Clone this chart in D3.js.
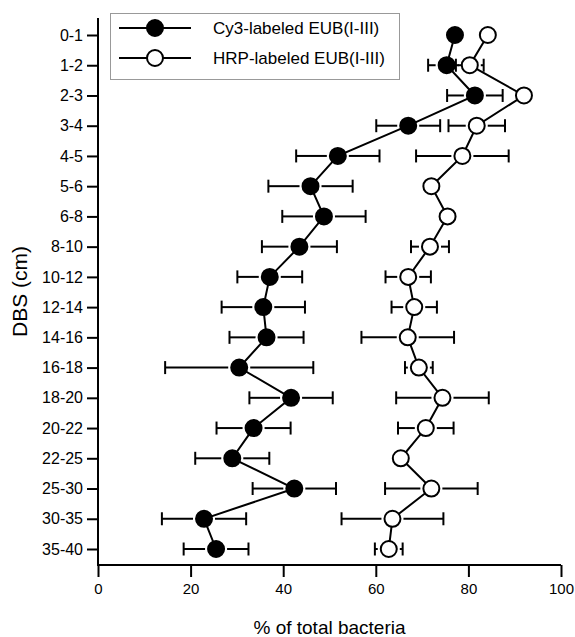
<!DOCTYPE html>
<html><head><meta charset="utf-8">
<script src="https://cdn.jsdelivr.net/npm/d3@7"></script>
<style>body{margin:0;background:#fff}svg{display:block}text{font-family:"Liberation Sans",Arial,sans-serif}</style>
</head><body>
<svg id="c" width="575" height="637"></svg>
<script>
const categories = ["0-1","1-2","2-3","3-4","4-5","5-6","6-8","8-10","10-12","12-14","14-16","16-18","18-20","20-22","22-25","25-30","30-35","35-40"];
const cy3Values = [77.1,75.3,81.4,67.0,51.8,45.9,48.8,43.5,37.1,35.7,36.4,30.5,41.7,33.6,29.0,42.4,22.9,25.5];
const cy3Errors = [1.5,4.0,6.0,6.9,9.0,9.1,9.0,8.1,7.0,9.0,8.0,16.0,9.0,8.0,8.0,9.0,9.1,7.0];
const hrpValues = [84.2,80.3,92.0,81.8,78.7,72.0,75.5,71.7,67.0,68.3,66.9,69.3,74.4,70.8,65.4,72.0,63.6,62.8];
const hrpErrors = [1.5,3.0,1.5,6.1,10.0,1.5,1.5,4.1,4.9,4.9,10.0,3.0,10.0,6.0,1.5,10.0,11.0,3.0];
const xTicks = [0,20,40,60,80,100];
const seriesNames = ["Cy3-labeled EUB(I-III)","HRP-labeled EUB(I-III)"];

const svg = d3.select("#c");
const x = d3.scaleLinear().domain([0,100]).range([98,561]);
const y = d3.scalePoint().domain(categories).range([35,549]);
const axisY0 = 18, axisY1 = 565;
const R = 8, GAP = 3, CAP = 6.5;

// axes
const xAxis = svg.append("g").attr("transform",`translate(0,${axisY1})`)
  .call(d3.axisBottom(x).tickValues(xTicks).tickSize(12).tickPadding(6).tickSizeOuter(0));
xAxis.select(".domain").attr("stroke-width",2).attr("d",`M${x(0)-1},0H${x(100)}`);
xAxis.selectAll(".tick line").attr("stroke-width",2);
xAxis.selectAll(".tick text").attr("font-size",15).attr("fill","#000");

const yAxis = svg.append("g").attr("transform","translate(98,0)")
  .call(d3.axisLeft(y).tickSize(11).tickPadding(4).tickSizeOuter(0));
yAxis.select(".domain").attr("d",`M0,${axisY0}V${axisY1}`).attr("stroke-width",2);
yAxis.selectAll(".tick line").attr("stroke-width",2);
yAxis.selectAll(".tick text").attr("font-size",16).attr("fill","#000");

// titles
svg.append("text").attr("x",(x(0)+x(100))/2).attr("y",634).attr("text-anchor","middle")
  .attr("font-size",19).text("% of total bacteria");
svg.append("text").attr("transform",`translate(27,${(axisY0+axisY1)/2}) rotate(-90)`)
  .attr("text-anchor","middle").attr("font-size",21).text("DBS (cm)");

function drawSeries(vals, errs, fill){
  const g = svg.append("g");
  const pts = categories.map((c,i)=>({c, v:vals[i], e:errs[i]}));
  g.append("path").datum(pts)
    .attr("d", d3.line().x(d=>x(d.v)).y(d=>y(d.c)))
    .attr("fill","none").attr("stroke","#000").attr("stroke-width",2);
  pts.forEach(d=>{
    const cx = x(d.v), cy = y(d.c);
    const lo = x(d.v-d.e), hi = x(d.v+d.e);
    if (cx - lo > R + GAP) {
      g.append("line").attr("x1",lo).attr("x2",cx-R-GAP).attr("y1",cy).attr("y2",cy).attr("stroke","#000").attr("stroke-width",2);
      g.append("line").attr("x1",lo).attr("x2",lo).attr("y1",cy-CAP).attr("y2",cy+CAP).attr("stroke","#000").attr("stroke-width",2);
      g.append("line").attr("x1",cx+R+GAP).attr("x2",hi).attr("y1",cy).attr("y2",cy).attr("stroke","#000").attr("stroke-width",2);
      g.append("line").attr("x1",hi).attr("x2",hi).attr("y1",cy-CAP).attr("y2",cy+CAP).attr("stroke","#000").attr("stroke-width",2);
    }
  });
  g.selectAll("circle").data(pts).join("circle")
    .attr("cx",d=>x(d.v)).attr("cy",d=>y(d.c)).attr("r",R)
    .attr("fill",fill).attr("stroke","#000").attr("stroke-width",2);
}
drawSeries(cy3Values, cy3Errors, "#000");
drawSeries(hrpValues, hrpErrors, "#fff");

// legend
const lg = svg.append("g");
lg.append("rect").attr("x",110.5).attr("y",13.5).attr("width",289).attr("height",66)
  .attr("fill","#fff").attr("stroke","#333").attr("stroke-width",1).attr("stroke-dasharray","1,1");
[["#000",28],["#fff",58]].forEach(([f,ly],i)=>{
  lg.append("line").attr("x1",119).attr("x2",191).attr("y1",ly).attr("y2",ly).attr("stroke","#000").attr("stroke-width",2);
  lg.append("circle").attr("cx",155).attr("cy",ly).attr("r",R).attr("fill",f).attr("stroke","#000").attr("stroke-width",2);
  lg.append("text").attr("x",213).attr("y",ly+6).attr("font-size",17).text(seriesNames[i]);
});
</script>
</body></html>
